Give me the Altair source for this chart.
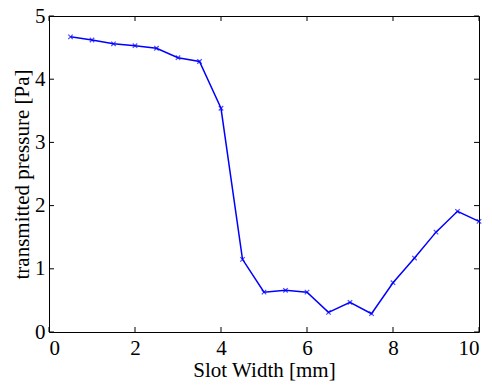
import altair as alt
import pandas as pd

slot_width = [0.5, 1, 1.5, 2, 2.5, 3, 3.5, 4, 4.5, 5, 5.5, 6, 6.5, 7, 7.5, 8, 8.5, 9, 9.5, 10]
pressure = [4.67, 4.62, 4.56, 4.53, 4.49, 4.34, 4.28, 3.54, 1.15, 0.63, 0.66, 0.63, 0.31, 0.47, 0.29, 0.78, 1.17, 1.58, 1.91, 1.75]
x_ticks = [0, 2, 4, 6, 8, 10]
y_ticks = [0, 1, 2, 3, 4, 5]

df = pd.DataFrame({"x": slot_width, "y": pressure})
xt = pd.DataFrame({"v": x_ticks})
yt = pd.DataFrame({"v": y_ticks})

W, H = 430, 316
FONT = "Liberation Serif"
BLUE = "#0000ff"

xscale = alt.Scale(domain=[0, 10], nice=False, zero=False)
yscale = alt.Scale(domain=[0, 5], nice=False, zero=False)

base = alt.Chart(df)
line = base.mark_line(color=BLUE, strokeWidth=1.5).encode(
    x=alt.X("x:Q", scale=xscale,
            axis=alt.Axis(title="Slot Width [mm]", values=x_ticks, format="d")),
    y=alt.Y("y:Q", scale=yscale,
            axis=alt.Axis(title="transmitted pressure [Pa]", values=y_ticks, format="d")),
)
pts = base.mark_point(
    shape="M-1,-1L1,1M-1,1L1,-1", size=20, color=BLUE, strokeWidth=1.2, filled=False
).encode(x=alt.X("x:Q", scale=xscale), y=alt.Y("y:Q", scale=yscale))

tl = 5
xb = alt.Chart(xt).mark_rule(color="#000", strokeWidth=1).encode(
    x=alt.X("v:Q", scale=xscale), y=alt.value(H), y2=alt.value(H - tl))
xtop = alt.Chart(xt).mark_rule(color="#000", strokeWidth=1).encode(
    x=alt.X("v:Q", scale=xscale), y=alt.value(0), y2=alt.value(tl))
yl = alt.Chart(yt).mark_rule(color="#000", strokeWidth=1).encode(
    y=alt.Y("v:Q", scale=yscale), x=alt.value(0), x2=alt.value(tl))
yr = alt.Chart(yt).mark_rule(color="#000", strokeWidth=1).encode(
    y=alt.Y("v:Q", scale=yscale), x=alt.value(W), x2=alt.value(W - tl))

chart = alt.layer(line, pts, xb, xtop, yl, yr).properties(
    width=W, height=H,
    background="white",
    autosize=alt.AutoSizeParams(type="none"),
    padding={"left": 41, "top": 8, "right": 5, "bottom": 50},
).configure_view(
    stroke="#000", strokeWidth=1
).configure_axis(
    tickSize=0, domain=False, grid=False,
    labelFont=FONT, labelFontSize=21, labelColor="#000",
    titleFont=FONT, titleFontSize=21, titleFontWeight="normal", titleColor="#000",
).configure_axisX(
    labelPadding=5, titlePadding=1
).configure_axisY(
    labelPadding=4, titlePadding=2
)

chart.save("out.html", embed_options={"renderer": "svg", "actions": False})
